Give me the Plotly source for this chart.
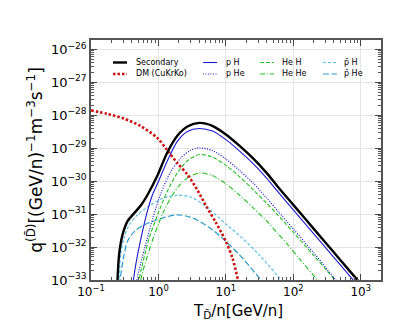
import numpy as np
import plotly.graph_objects as go

# ---- data (log10 values) ----
sec_logT = [-0.62, -0.607, -0.584, -0.533, -0.46, -0.36, -0.262, -0.163, -0.015, 0.133, 0.28, 0.43, 0.607, 0.8, 1.0, 1.2, 1.4, 1.6, 1.767, 2.0, 2.3, 2.6, 2.8, 3.0, 3.05]
sec_logq = [-33.5, -33.0, -32.24, -31.63, -31.22, -30.97, -30.74, -30.42, -29.83, -29.12, -28.62, -28.34, -28.23, -28.32, -28.58, -28.92, -29.3, -29.74, -30.16, -30.72, -31.44, -32.16, -32.64, -33.12, -33.25]

dm_logT = [-1.0, -0.756, -0.51, -0.262, -0.015, 0.123, 0.28, 0.43, 0.577, 0.705, 0.85, 1.0, 1.1, 1.18, 1.22]
dm_logq = [-27.85, -27.96, -28.10, -28.33, -28.69, -29.04, -29.45, -29.80, -30.27, -30.75, -31.25, -31.83, -32.35, -33.0, -33.3]

pH_logT = [-0.38, -0.37, -0.31, -0.237, -0.163, -0.089, -0.015, 0.133, 0.28, 0.43, 0.607, 0.8, 1.0, 1.2, 1.4, 1.6, 1.767, 2.0, 2.3, 2.6, 2.85, 2.95]
pH_logq = [-33.3, -33.0, -32.24, -31.53, -30.9, -30.42, -30.08, -29.38, -28.79, -28.49, -28.40, -28.48, -28.74, -29.08, -29.46, -29.9, -30.31, -30.87, -31.59, -32.31, -32.91, -33.15]

pHe_logT = [-0.33, -0.32, -0.2, -0.08, 0.034, 0.18, 0.33, 0.48, 0.607, 0.8, 1.0, 1.2, 1.4, 1.6, 1.767, 2.0, 2.3, 2.5, 2.63, 2.7]
pHe_logq = [-33.3, -33.0, -32.0, -31.1, -30.38, -29.72, -29.30, -29.06, -28.99, -29.07, -29.33, -29.67, -30.05, -30.5, -30.9, -31.45, -32.17, -32.67, -33.0, -33.2]

HeH_logT = [-0.3, -0.287, -0.14, 0.0, 0.133, 0.28, 0.43, 0.607, 0.8, 1.0, 1.2, 1.4, 1.6, 1.767, 2.0, 2.3, 2.5, 2.61, 2.7]
HeH_logq = [-33.3, -33.0, -31.75, -30.95, -30.3, -29.75, -29.38, -29.19, -29.27, -29.52, -29.86, -30.25, -30.66, -31.02, -31.55, -32.25, -32.72, -33.0, -33.2]

HeHe_logT = [-0.27, -0.262, -0.114, 0.06, 0.207, 0.33, 0.43, 0.607, 0.8, 1.0, 1.2, 1.4, 1.6, 1.767, 1.915, 2.1, 2.36, 2.45]
HeHe_logq = [-33.3, -33.0, -31.95, -31.0, -30.42, -30.08, -29.90, -29.75, -29.83, -30.08, -30.42, -30.8, -31.2, -31.58, -31.92, -32.38, -33.0, -33.2]

pbH_logT = [-0.6, -0.584, -0.56, -0.51, -0.435, -0.31, -0.114, 0.078, 0.28, 0.48, 0.705, 1.0, 1.25, 1.5, 1.82, 1.9]
pbH_logq = [-33.4, -33.0, -32.24, -31.73, -31.33, -31.02, -30.72, -30.51, -30.43, -30.48, -30.77, -31.3, -31.74, -32.25, -33.0, -33.2]

pbHe_logT = [-0.59, -0.57, -0.51, -0.46, -0.36, -0.213, -0.015, 0.28, 0.508, 0.75, 1.0, 1.25, 1.5, 1.56]
pbHe_logq = [-33.4, -33.0, -32.24, -31.83, -31.53, -31.33, -31.17, -31.02, -31.12, -31.4, -31.83, -32.34, -32.95, -33.1]

x_tick_exps = [-1, 0, 1, 2, 3]
y_tick_exps = [-33, -32, -31, -30, -29, -28, -27, -26]

series = [
    # name, logT, logq, color, width, dash
    ("Secondary", sec_logT, sec_logq, "#000000", 2.4, "solid"),
    ("DM (CuKrKo)", dm_logT, dm_logq, "#cc1111", 2.6, "2.5px,2px"),
    ("p H", pH_logT, pH_logq, "#1a1acc", 1.1, "solid"),
    ("p He", pHe_logT, pHe_logq, "#1a1acc", 1.2, "1px,1.5px"),
    ("He H", HeH_logT, HeH_logq, "#22c022", 1.1, "4px,2px"),
    ("He He", HeHe_logT, HeHe_logq, "#22c022", 1.1, "5px,2px,1px,2px"),
    ("p\u0304 H", pbH_logT, pbH_logq, "#5cc0e6", 1.2, "3px,2px"),
    ("p\u0304 He", pbHe_logT, pbHe_logq, "#2a9ccc", 1.2, "6px,2.5px"),
]

fig = go.Figure()
draw_order = [7, 6, 5, 4, 3, 2, 1, 0]
for i in draw_order:
    name, lt, lq, col, w, dash = series[i]
    fig.add_trace(go.Scatter(
        x=10 ** np.array(lt), y=10 ** np.array(lq), mode="lines", name=name,
        line=dict(color=col, width=w, dash=dash, shape="spline", smoothing=0.8),
        showlegend=False, hoverinfo="skip"))

# ---- manual legend (matplotlib style, 4 columns x 2 rows) ----
W, H = 415, 320
L, R, T, B = 83, 42, 32, 48
pw, ph = W - L - R, H - T - B

def px(x):
    return (x - L) / pw

def py(y):
    return 1 - (y - T) / ph

legend_layout = [  # series index, line x start, text x, row y
    (0, 105, 126, 54.5), (1, 105, 126, 66),
    (2, 195, 216, 54.5), (3, 195, 216, 66),
    (4, 252, 272, 54.5), (5, 252, 272, 66),
    (6, 315, 334, 54.5), (7, 315, 334, 66),
]
shapes = []
annotations = []
for idx, x0, xt, yy in legend_layout:
    name, lt, lq, col, w, dash = series[idx]
    shapes.append(dict(type="line", xref="paper", yref="paper",
                       x0=px(x0), x1=px(x0 + 14), y0=py(yy), y1=py(yy),
                       line=dict(color=col, width=w, dash=dash)))
    annotations.append(dict(xref="paper", yref="paper", x=px(xt), y=py(yy),
                            text=name, showarrow=False, xanchor="left", yanchor="middle",
                            font=dict(family="DejaVu Sans", size=8, color="#000")))

# x-axis title as an annotation so that the subscript stays inside the page
annotations.append(dict(xref="paper", yref="paper", x=px(230), y=py(315),
                        xanchor="center", yanchor="bottom", showarrow=False,
                        text="T<sub>D\u0304</sub>/n[GeV/n]",
                        font=dict(family="DejaVu Sans", size=15, color="#000")))

def pow_text(e):
    return "10<sup>" + (str(e) if e >= 0 else "\u2212" + str(-e)) + "</sup>"

axis_common = dict(
    type="log",
    ticks="inside", ticklen=6, tickwidth=1, tickcolor="#444",
    mirror="allticks", showline=True, linecolor="#555", linewidth=1.5,
    showgrid=True, gridcolor="#e4e4e4", gridwidth=1, zeroline=False,
    tickfont=dict(family="DejaVu Sans", size=13, color="#000"),
    minor=dict(ticks="inside", ticklen=3, tickcolor="#555", showgrid=False, dtick="D1"),
)

fig.update_layout(
    width=W, height=H,
    margin=dict(l=L, r=R, t=T, b=B),
    paper_bgcolor="white", plot_bgcolor="white",
    showlegend=False,
    shapes=shapes, annotations=annotations,
    xaxis=dict(axis_common, range=[-1.0, 3.3],
               tickmode="array",
               tickvals=[10.0 ** e for e in x_tick_exps],
               ticktext=[pow_text(e) for e in x_tick_exps],
               tickfont=dict(family="DejaVu Sans", size=12, color="#000")),
    yaxis=dict(axis_common, range=[-33.0, -25.714],
               tickmode="array",
               tickvals=[10.0 ** e for e in y_tick_exps],
               ticktext=[pow_text(e) for e in y_tick_exps],
               title=dict(text="q<sup>(D\u0304)</sup>[(GeV/n)<sup>\u22121</sup>m<sup>\u22123</sup>s<sup>\u22121</sup>]",
                          standoff=4,
                          font=dict(family="DejaVu Sans", size=17, color="#000"))),
)

fig.write_html("out.html")
